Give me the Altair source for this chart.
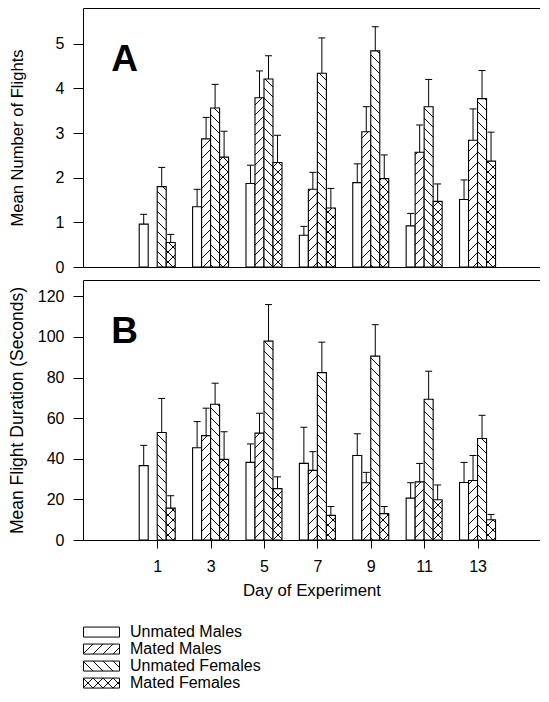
import altair as alt
import pandas as pd
import numpy as np

# ---------------- data ----------------
days = [1, 3, 5, 7, 9, 11, 13]
groups = ["Unmated Males", "Mated Males", "Unmated Females", "Mated Females"]
hatch_kinds = ["none", "fwd", "back", "cross"]

# Panel A: mean number of flights (mean, standard error)
a_um_mean = [0.96, 1.35, 1.87, 0.71, 1.89, 0.92, 1.51]
a_um_se = [0.22, 0.39, 0.41, 0.20, 0.42, 0.28, 0.44]
a_mm_mean = [None, 2.87, 3.79, 1.74, 3.03, 2.57, 2.84]
a_mm_se = [None, 0.48, 0.60, 0.38, 0.56, 0.61, 0.70]
a_uf_mean = [1.80, 3.56, 4.21, 4.34, 4.84, 3.59, 3.77]
a_uf_se = [0.43, 0.53, 0.52, 0.79, 0.54, 0.61, 0.63]
a_mf_mean = [0.55, 2.46, 2.34, 1.32, 1.98, 1.47, 2.37]
a_mf_se = [0.18, 0.58, 0.61, 0.44, 0.53, 0.39, 0.65]

# Panel B: mean flight duration in seconds (mean, standard error)
b_um_mean = [36.6, 45.4, 38.2, 37.7, 41.6, 20.6, 28.3]
b_um_se = [10.0, 12.9, 9.1, 17.8, 10.7, 7.6, 9.9]
b_mm_mean = [None, 51.4, 52.6, 34.3, 28.2, 28.6, 29.3]
b_mm_se = [None, 13.5, 9.8, 9.2, 5.1, 9.1, 12.3]
b_uf_mean = [52.9, 66.8, 97.9, 82.4, 90.5, 69.3, 50.0]
b_uf_se = [16.8, 10.4, 18.0, 15.0, 15.5, 13.8, 11.4]
b_mf_mean = [15.7, 39.7, 25.3, 12.1, 13.0, 19.8, 10.0]
b_mf_se = [6.1, 13.6, 5.8, 4.4, 3.5, 7.3, 2.6]

a_ticks = [0, 1, 2, 3, 4, 5]
b_ticks = [0, 20, 40, 60, 80, 100, 120]

# ---------------- geometry / style ----------------
FONT = "Liberation Sans"
PLOT_W = 457
A_H = 259
B_H = 260
XDOM = [-1.78, 15.34]
A_YDOM = [0, 5.8]
B_YDOM = [0, 128]
PX_DAY = PLOT_W / (XDOM[1] - XDOM[0])
BAR_W = 9.0 / PX_DAY
CAP_W = 7.0 / PX_DAY
PERIOD = 10.0  # hatch spacing in px


def hatch_px(X0, X1, Y0, Y1, kind):
    """hatch segments inside a rectangle, pixel units, Y upward"""
    segs = []
    if kind in ("fwd", "cross"):
        k0 = int(np.ceil((Y0 - X1) / PERIOD))
        k1 = int(np.floor((Y1 - X0) / PERIOD))
        for k in range(k0, k1 + 1):
            C = k * PERIOD
            xs = max(X0, Y0 - C)
            xe = min(X1, Y1 - C)
            if xe - xs > 0.4:
                segs.append((xs, xs + C, xe, xe + C))
    if kind in ("back", "cross"):
        k0 = int(np.ceil((X0 + Y0) / PERIOD))
        k1 = int(np.floor((X1 + Y1) / PERIOD))
        for k in range(k0, k1 + 1):
            C = k * PERIOD
            xs = max(X0, C - Y1)
            xe = min(X1, C - Y0)
            if xe - xs > 0.4:
                segs.append((xs, C - xs, xe, C - xe))
    return segs


def panel_tables(means, ses, ydom, H):
    px_unit = H / (ydom[1] - ydom[0])
    bars, hat, err = [], [], []
    for gi, g in enumerate(groups):
        for di, d in enumerate(days):
            m = means[gi][di]
            if m is None:
                continue
            s = ses[gi][di]
            x0 = d + (gi - 2) * BAR_W
            x1 = x0 + BAR_W
            xc = (x0 + x1) / 2
            bars.append({"group": g, "day": d, "x0": x0, "x1": x1, "mean": m, "base": 0.0})
            err.append({"group": g, "xc": xc, "c0": xc - CAP_W / 2, "c1": xc + CAP_W / 2,
                        "mean": m, "top": m + s})
            X0 = (x0 - XDOM[0]) * PX_DAY
            X1 = (x1 - XDOM[0]) * PX_DAY
            for (xa, ya, xb, yb) in hatch_px(X0, X1, 0.0, m * px_unit, hatch_kinds[gi]):
                hat.append({"hx": XDOM[0] + xa / PX_DAY, "hy": ya / px_unit,
                            "hx2": XDOM[0] + xb / PX_DAY, "hy2": yb / px_unit})
    return pd.DataFrame(bars), pd.DataFrame(hat), pd.DataFrame(err)


def make_panel(means, ses, ydom, H, yticks, ytitle, ytitle_size, ytitle_pad, letter, bottom_axis):
    bars, hat, err = panel_tables(means, ses, ydom, H)
    xs = alt.Scale(domain=XDOM, nice=False, zero=False)
    ys = alt.Scale(domain=ydom, nice=False, zero=True)
    yaxis = alt.Axis(values=yticks, title=ytitle, titleFontSize=ytitle_size,
                     titlePadding=ytitle_pad, labelFontSize=16, labelPadding=9,
                     tickSize=10, format="d", labelFlush=False)
    top_axis = alt.Axis(orient="top", domain=True, ticks=False, labels=False, title=None)

    bar_layer = alt.Chart(bars).mark_bar(fill="white", stroke="black", strokeWidth=1.1).encode(
        x=alt.X("x0:Q", scale=xs, axis=bottom_axis),
        x2="x1:Q",
        y=alt.Y("mean:Q", scale=ys, axis=yaxis),
        y2="base:Q",
    )
    hatch_layer = alt.Chart(hat).mark_rule(color="black", strokeWidth=1).encode(
        x=alt.X("hx:Q", scale=xs, axis=top_axis),
        x2="hx2:Q",
        y=alt.Y("hy:Q", scale=ys, axis=yaxis),
        y2="hy2:Q",
    )
    err_layer = alt.Chart(err).mark_rule(color="black", strokeWidth=1).encode(
        x=alt.X("xc:Q", scale=xs, axis=None),
        y=alt.Y("mean:Q", scale=ys, axis=yaxis),
        y2="top:Q",
    )
    cap_layer = alt.Chart(err).mark_rule(color="black", strokeWidth=1).encode(
        x=alt.X("c0:Q", scale=xs, axis=None),
        x2="c1:Q",
        y=alt.Y("top:Q", scale=ys, axis=yaxis),
    )
    letter_layer = alt.Chart(pd.DataFrame({"t": [letter]})).mark_text(
        font=FONT, fontSize=37, fontWeight="bold", align="center", baseline="middle", color="black"
    ).encode(text="t:N", x=alt.value(41.5), y=alt.value(52))

    return alt.layer(bar_layer, hatch_layer, err_layer, cap_layer, letter_layer).resolve_axis(
        x="independent").properties(width=PLOT_W, height=H)


a_means = [a_um_mean, a_mm_mean, a_uf_mean, a_mf_mean]
a_ses = [a_um_se, a_mm_se, a_uf_se, a_mf_se]
b_means = [b_um_mean, b_mm_mean, b_uf_mean, b_mf_mean]
b_ses = [b_um_se, b_mm_se, b_uf_se, b_mf_se]

a_bottom = alt.Axis(domain=True, ticks=False, labels=False, title=None)
b_bottom = alt.Axis(values=days, format="d", tickSize=8, labelPadding=10, labelFontSize=16,
                    title="Day of Experiment", titleFontSize=16.8, titlePadding=8,
                    labelFlush=False)

panel_a = make_panel(a_means, a_ses, A_YDOM, A_H, a_ticks, "Mean Number of Flights", 16.6, 30, "A", a_bottom)
panel_b = make_panel(b_means, b_ses, B_YDOM, B_H, b_ticks, "Mean Flight Duration (Seconds)", 17.5, 11, "B", b_bottom)

# ---------------- legend panel ----------------
LEG_W = 200
ROW_PX = 17.0
LEG_YDOM = [-1.65, 3.5]
LEG_H = ROW_PX * (LEG_YDOM[1] - LEG_YDOM[0])
SW_W = 36.0
SW_H = 10.0
TEXT_X = 47.0

sw_rows, sw_hatch = [], []
for i, g in enumerate(groups):
    half = SW_H / 2 / ROW_PX
    sw_rows.append({"group": g, "row": i, "sx0": 0.5, "sx1": 0.5 + SW_W,
                    "sy0": i - half, "sy1": i + half, "tx": TEXT_X})
    for (xa, ya, xb, yb) in hatch_px(0.5, 0.5 + SW_W, 0.0, SW_H, hatch_kinds[i]):
        sw_hatch.append({"hx": xa, "hy": i + half - ya / ROW_PX,
                         "hx2": xb, "hy2": i + half - yb / ROW_PX})
sw_rows = pd.DataFrame(sw_rows)
sw_hatch = pd.DataFrame(sw_hatch)

lxs = alt.Scale(domain=[0, LEG_W], nice=False, zero=False)
lys = alt.Scale(domain=LEG_YDOM, nice=False, zero=False, reverse=True)

leg_box = alt.Chart(sw_rows).mark_rect(fill="white", stroke="black", strokeWidth=1).encode(
    x=alt.X("sx0:Q", scale=lxs, axis=None), x2="sx1:Q",
    y=alt.Y("sy0:Q", scale=lys, axis=None), y2="sy1:Q")
leg_hatch = alt.Chart(sw_hatch).mark_rule(color="black", strokeWidth=1).encode(
    x=alt.X("hx:Q", scale=lxs, axis=None), x2="hx2:Q",
    y=alt.Y("hy:Q", scale=lys, axis=None), y2="hy2:Q")
leg_text = alt.Chart(sw_rows).mark_text(font=FONT, fontSize=16, align="left", baseline="middle",
                                         color="black").encode(
    x=alt.X("tx:Q", scale=lxs, axis=None),
    y=alt.Y("row:Q", scale=lys, axis=None),
    text="group:N")
legend = alt.layer(leg_box, leg_hatch, leg_text).properties(width=LEG_W, height=LEG_H)

chart = alt.vconcat(panel_a, panel_b, legend, spacing=5).properties(
    padding={"left": 0, "top": 0, "right": 0, "bottom": 0}
).configure(font=FONT).configure_view(stroke=None).configure_axis(
    grid=False, domainColor="black", domainWidth=1, tickColor="black", tickWidth=1,
    labelColor="black", titleColor="black", labelFont=FONT, titleFont=FONT,
    titleFontWeight="normal")

chart.save("out.html", embed_options={"renderer": "svg", "actions": False})
